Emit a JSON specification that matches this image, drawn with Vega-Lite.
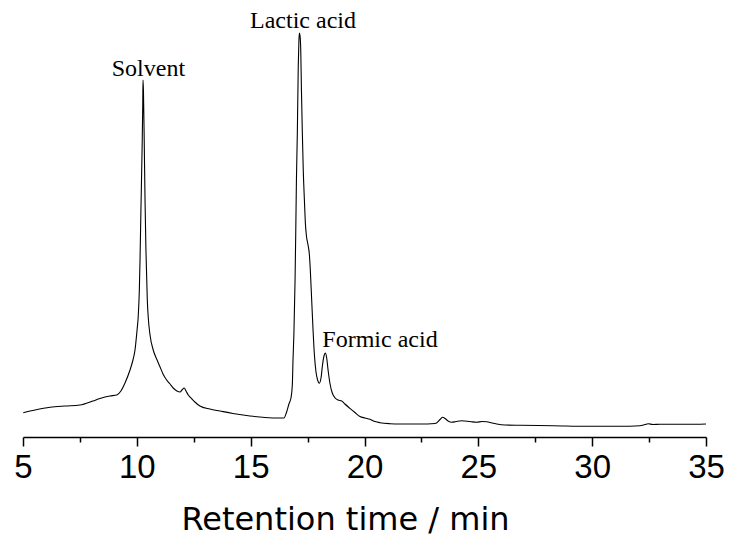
{
  "$schema": "https://vega.github.io/schema/vega-lite/v6.json",
  "width": 683,
  "height": 437,
  "autosize": {"type": "none"},
  "padding": {"left": 23, "top": 0, "right": 23, "bottom": 101},
  "background": "white",
  "config": {"view": {"stroke": null}},
  "layer": [
    {
      "data": {"values": [
        {"t": 5.01, "v": 24.3}, {"t": 5.53, "v": 27}, {"t": 6.19, "v": 29.7}, {"t": 6.84, "v": 31},
        {"t": 7.5, "v": 32}, {"t": 8.07, "v": 36}, {"t": 8.38, "v": 38.5}, {"t": 8.82, "v": 41},
        {"t": 9.12, "v": 42}, {"t": 9.3, "v": 46}, {"t": 9.48, "v": 54}, {"t": 9.7, "v": 67},
        {"t": 9.83, "v": 77}, {"t": 9.92, "v": 87}, {"t": 10.01, "v": 107}, {"t": 10.06, "v": 120},
        {"t": 10.11, "v": 147}, {"t": 10.14, "v": 177}, {"t": 10.18, "v": 227}, {"t": 10.23, "v": 287},
        {"t": 10.26, "v": 332}, {"t": 10.27, "v": 357}, {"t": 10.29, "v": 347}, {"t": 10.33, "v": 287},
        {"t": 10.36, "v": 237}, {"t": 10.4, "v": 187}, {"t": 10.46, "v": 137}, {"t": 10.5, "v": 120},
        {"t": 10.58, "v": 102}, {"t": 10.72, "v": 87}, {"t": 10.89, "v": 77}, {"t": 11.02, "v": 70},
        {"t": 11.15, "v": 63}, {"t": 11.31, "v": 57}, {"t": 11.46, "v": 53}, {"t": 11.6, "v": 49},
        {"t": 11.76, "v": 46}, {"t": 11.9, "v": 45}, {"t": 11.98, "v": 47}, {"t": 12.08, "v": 49},
        {"t": 12.16, "v": 46}, {"t": 12.26, "v": 42}, {"t": 12.42, "v": 38}, {"t": 12.55, "v": 35},
        {"t": 12.77, "v": 31}, {"t": 13.21, "v": 28}, {"t": 13.65, "v": 26}, {"t": 14.22, "v": 23.5},
        {"t": 14.97, "v": 21}, {"t": 15.63, "v": 19.5}, {"t": 16.29, "v": 19}, {"t": 16.46, "v": 19},
        {"t": 16.58, "v": 25}, {"t": 16.68, "v": 33}, {"t": 16.77, "v": 39}, {"t": 16.83, "v": 52},
        {"t": 16.86, "v": 77}, {"t": 16.9, "v": 104}, {"t": 16.95, "v": 157}, {"t": 16.98, "v": 204},
        {"t": 17.01, "v": 257}, {"t": 17.05, "v": 304}, {"t": 17.09, "v": 370}, {"t": 17.12, "v": 397},
        {"t": 17.14, "v": 404}, {"t": 17.17, "v": 401}, {"t": 17.2, "v": 387}, {"t": 17.23, "v": 347},
        {"t": 17.27, "v": 304}, {"t": 17.31, "v": 267}, {"t": 17.36, "v": 237}, {"t": 17.4, "v": 215},
        {"t": 17.45, "v": 201}, {"t": 17.52, "v": 192}, {"t": 17.58, "v": 182}, {"t": 17.62, "v": 167},
        {"t": 17.68, "v": 137}, {"t": 17.74, "v": 107}, {"t": 17.8, "v": 82}, {"t": 17.87, "v": 65},
        {"t": 17.94, "v": 57}, {"t": 18.01, "v": 53.7}, {"t": 18.09, "v": 59}, {"t": 18.15, "v": 71},
        {"t": 18.22, "v": 81}, {"t": 18.28, "v": 84}, {"t": 18.34, "v": 79}, {"t": 18.4, "v": 67},
        {"t": 18.48, "v": 54}, {"t": 18.57, "v": 45}, {"t": 18.71, "v": 39}, {"t": 18.84, "v": 37},
        {"t": 19.0, "v": 36}, {"t": 19.14, "v": 33}, {"t": 19.36, "v": 28.7}, {"t": 19.58, "v": 24.5},
        {"t": 19.8, "v": 20.5}, {"t": 20.02, "v": 19}, {"t": 20.24, "v": 17.7}, {"t": 20.46, "v": 15.5},
        {"t": 20.68, "v": 14.3}, {"t": 21.12, "v": 13.3}, {"t": 21.56, "v": 13}, {"t": 22.44, "v": 13},
        {"t": 23.1, "v": 13.5}, {"t": 23.32, "v": 17.5}, {"t": 23.43, "v": 19.7}, {"t": 23.54, "v": 18.5},
        {"t": 23.67, "v": 16}, {"t": 23.83, "v": 14.7}, {"t": 24.02, "v": 15.5}, {"t": 24.27, "v": 16.3},
        {"t": 24.63, "v": 15.5}, {"t": 24.93, "v": 14.7}, {"t": 25.16, "v": 15.5}, {"t": 25.37, "v": 15.3},
        {"t": 25.6, "v": 14}, {"t": 25.81, "v": 13}, {"t": 26.17, "v": 12}, {"t": 26.83, "v": 11.7},
        {"t": 28.28, "v": 11.3}, {"t": 29.77, "v": 10.7}, {"t": 31.22, "v": 10.7}, {"t": 32.1, "v": 11.3},
        {"t": 32.32, "v": 12.5}, {"t": 32.46, "v": 13.3}, {"t": 32.67, "v": 12.5}, {"t": 32.98, "v": 12.7},
        {"t": 34.17, "v": 12.7}, {"t": 35.0, "v": 13}
      ]},
      "mark": {"type": "line", "color": "black", "strokeWidth": 1.1, "interpolate": "monotone"},
      "encoding": {
        "x": {
          "field": "t", "type": "quantitative",
          "scale": {"domain": [5, 35], "nice": false, "zero": false},
          "axis": {
            "values": [5, 7.5, 10, 12.5, 15, 17.5, 20, 22.5, 25, 27.5, 30, 32.5, 35],
            "labelExpr": "datum.value % 5 === 0 ? datum.label : ''",
            "labelFont": "Liberation Sans", "labelFontSize": 33, "labelColor": "black",
            "labelPadding": 5, "labelOverlap": false, "labelFlush": false,
            "tickColor": "black", "tickWidth": 1.5,
            "tickSize": {"condition": {"test": "datum.value % 5 === 0", "value": 9}, "value": 5},
            "domainColor": "black", "domainWidth": 1.5, "grid": false,
            "title": "Retention time / min", "titleFont": "DejaVu Sans", "titleFontSize": 32,
            "titleFontWeight": "normal", "titleColor": "black",
            "titleX": 322, "titleY": 92, "titleAlign": "center", "titleBaseline": "alphabetic"
          }
        },
        "y": {
          "field": "v", "type": "quantitative",
          "scale": {"domain": [0, 437], "nice": false, "zero": false},
          "axis": null
        }
      }
    },
    {
      "data": {"values": [
        {"t": 10.51, "v": 361, "label": "Solvent"},
        {"t": 17.3, "v": 409, "label": "Lactic acid"},
        {"t": 20.68, "v": 90, "label": "Formic acid"}
      ]},
      "mark": {"type": "text", "font": "Liberation Serif", "fontSize": 24, "color": "black", "align": "center", "baseline": "alphabetic"},
      "encoding": {
        "x": {"field": "t", "type": "quantitative"},
        "y": {"field": "v", "type": "quantitative"},
        "text": {"field": "label", "type": "nominal"}
      }
    }
  ]
}
